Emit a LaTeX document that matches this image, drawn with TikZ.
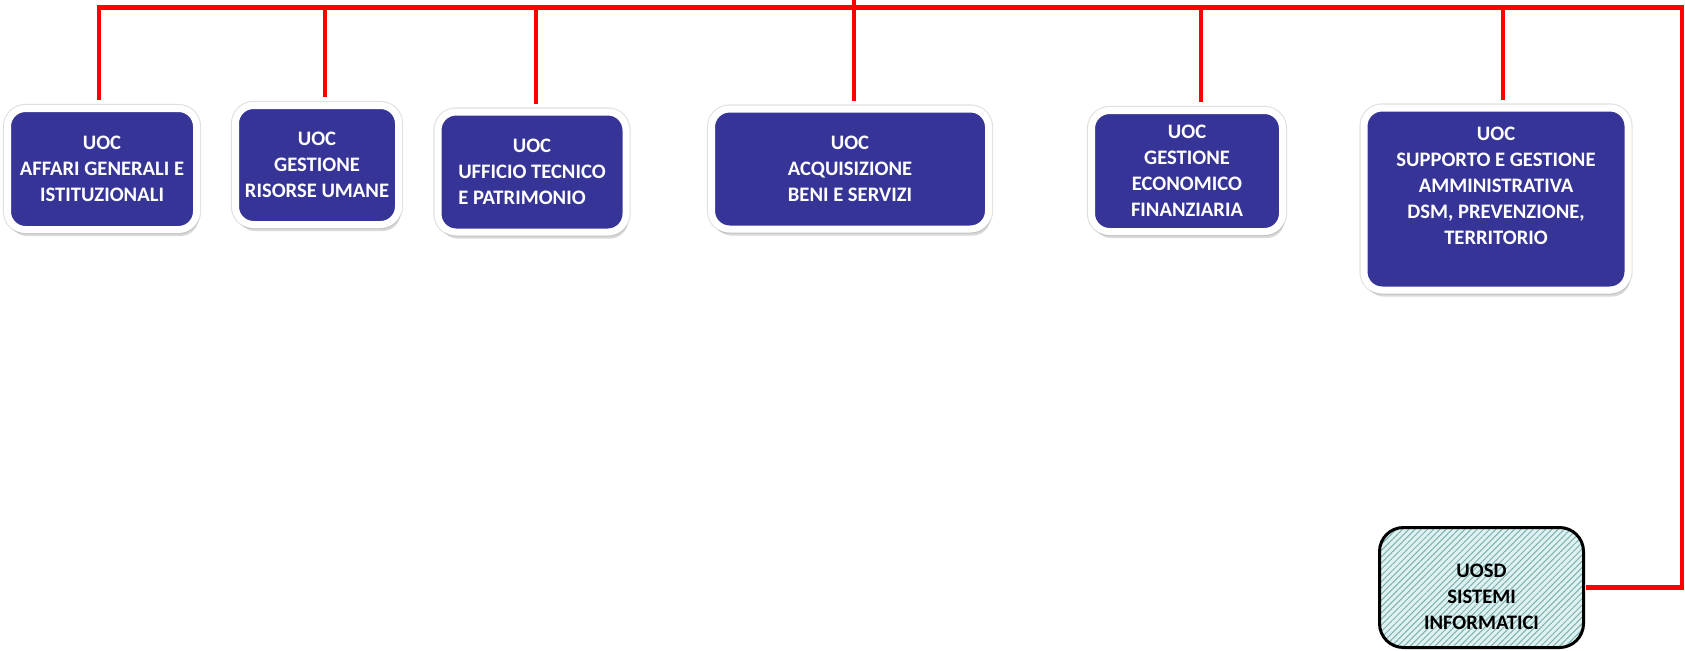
\documentclass[tikz,border=0pt]{standalone}
\usepackage{fontspec}
\setmainfont{Carlito}
\usetikzlibrary{shadows}
\usetikzlibrary{patterns.meta}
\usetikzlibrary{calc}

\definecolor{uocblue}{RGB}{54,53,151}
\definecolor{hatchbg}{RGB}{224,241,241}
\definecolor{hatchline}{RGB}{125,178,178}

\newcommand{\padleft}[2]{\makebox[0pt][l]{#2}\phantom{#1}}

\tikzset{
    uoc/.style={rounded corners=9pt, fill=uocblue, draw=white, line width=3.5pt,
        text=white, font=\bfseries\fontsize{10.3}{13}\selectfont, align=center, inner sep=0pt,
        preaction={draw=black!12, line width=4.6pt},
        drop shadow={shadow xshift=1pt, shadow yshift=-3.3pt, opacity=0.3}},
    uosd/.style={rounded corners=12pt, draw=black, line width=1.5pt,
        preaction={fill=hatchbg}, pattern={Lines[angle=45, distance=2.2pt, line width=0.5pt]},
        pattern color=hatchline, text=black, font=\bfseries\fontsize{10.3}{13}\selectfont,
        align=center, inner sep=0pt},
    bus/.style={draw=red, line width=2.3pt}
}

\begin{document}
\begin{tikzpicture}[x=0.5pt, y=-0.5pt]
    \useasboundingbox (0,0) rectangle (1685,650);

    \node[uoc, minimum width=94.5pt, minimum height=60.5pt] (affari) at (102,169) {UOC\\AFFARI GENERALI E\\ISTITUZIONALI};
    \node[uoc, minimum width=81.5pt, minimum height=59.5pt] (risorse) at (317,165) {UOC\\GESTIONE\\RISORSE UMANE};
    \node[uoc, minimum width=94pt, minimum height=60pt] (tecnico) at (532,172) {UOC\\UFFICIO TECNICO\\\padleft{UFFICIO TECNICO}{E PATRIMONIO}};
    \node[uoc, minimum width=138.5pt, minimum height=60pt] (acquisti) at (850,169) {UOC\\ACQUISIZIONE\\BENI E SERVIZI};
    \node[uoc, minimum width=95.5pt, minimum height=60.5pt] (finanza) at (1187,171) {UOC\\GESTIONE\\ECONOMICO\\FINANZIARIA};
    \node[uoc, minimum width=132pt, minimum height=91pt] (supporto) at (1496,199) {UOC\\SUPPORTO E GESTIONE\\AMMINISTRATIVA\\DSM, PREVENZIONE,\\TERRITORIO\\ \mbox{}};

    \node[uosd, minimum width=102pt, minimum height=60pt] (sistemi) at (1481.5,587.5) {\rule{0pt}{16pt}UOSD\\SISTEMI\\INFORMATICI};

    % taps on the red line
    \coordinate (ta) at (99,7.5);
    \coordinate (tr) at (325,7.5);
    \coordinate (tt) at (536,7.5);
    \coordinate (tq) at (854,0);
    \coordinate (tf) at (1201,7.5);
    \coordinate (ts) at (1503,7.5);
    \coordinate (te) at (1682,7.5);

    \draw[bus, shorten <=2.3pt, shorten >=0.75pt] (ta |- affari.north) -- (ta) -- (te) -- (te |- sistemi.east) -- (sistemi.east);
    \draw[bus, shorten >=2.3pt] (tr) -- (tr |- risorse.north);
    \draw[bus, shorten >=2.3pt] (tt) -- (tt |- tecnico.north);
    \draw[bus, shorten >=2.3pt] (tq) -- (tq |- acquisti.north);
    \draw[bus, shorten >=2.3pt] (tf) -- (tf |- finanza.north);
    \draw[bus, shorten >=2.3pt] (ts) -- (ts |- supporto.north);
\end{tikzpicture}
\end{document}
